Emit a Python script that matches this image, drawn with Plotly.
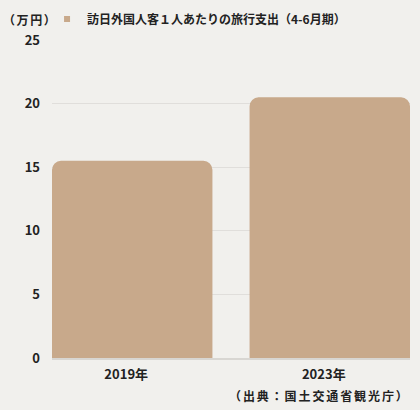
import plotly.graph_objects as go

categories = ["2019年", "2023年"]
values = [15.5, 20.5]
series_name = "訪日外国人客１人あたりの旅行支出（4-6月期）"
y_ticks = [0, 5, 10, 15, 20, 25]
unit_label = "（万円）"
source_label = "（出典：国土交通省観光庁）"

BAR = "#c8a98b"
BG = "#f1f0ed"
TXT = "#222222"
FONT = "Noto Sans CJK JP"

fig = go.Figure()
fig.add_trace(go.Bar(
    x=categories, y=values, marker=dict(color=BAR, cornerradius=9, line=dict(width=0)),
    showlegend=False, hoverinfo="skip",
))
fig.add_trace(go.Scatter(
    x=[None], y=[None], mode="markers", name=series_name,
    marker=dict(symbol="square", size=6, color=BAR),
))

fig.update_layout(
    width=420, height=410,
    margin=dict(l=52, r=10, t=39.5, b=52, autoexpand=False),
    paper_bgcolor=BG, plot_bgcolor=BG,
    font=dict(family=FONT, size=12, color=TXT, weight="bold"),
    bargap=0.188,
    legend=dict(orientation="h", xref="container", x=0.112, xanchor="left",
                yref="container", y=1 - 19 / 410, yanchor="middle",
                font=dict(size=12, weight="bold"),
                itemwidth=30, bgcolor="rgba(0,0,0,0)"),
    xaxis=dict(type="category", range=[-0.406, 1.406], showgrid=False, automargin=False,
               showline=True, linecolor="#d8d6d2", linewidth=2, ticks="",
               ticklabelstandoff=3, ticklabelshift=-6,
               tickfont=dict(size=13, weight="bold")),
    yaxis=dict(range=[0, 25], tickvals=y_ticks, showgrid=True, gridcolor="#e0dedb",
               gridwidth=1, zeroline=False, ticks="", ticklabelstandoff=11, automargin=False,
               tickfont=dict(size=13, weight="bold")),
)

fig.add_annotation(text='<span style="letter-spacing:1.6px">%s</span>' % unit_label,
                   xref="paper", yref="paper", x=-0.142, y=1.0,
                   yshift=20.5, xanchor="left", yanchor="middle", showarrow=False,
                   font=dict(size=12, weight="bold"))
fig.add_annotation(text='<span style="letter-spacing:1.9px">%s</span>' % source_label,
                   xref="paper", yref="paper", x=1.005, y=0,
                   yshift=-37, xanchor="right", yanchor="middle", showarrow=False,
                   font=dict(size=12, weight="bold"))

fig.write_html(
    "out.html",
    config={"displayModeBar": False},
    post_script="document.body.style.margin='0';document.body.style.background='%s';" % BG,
)
